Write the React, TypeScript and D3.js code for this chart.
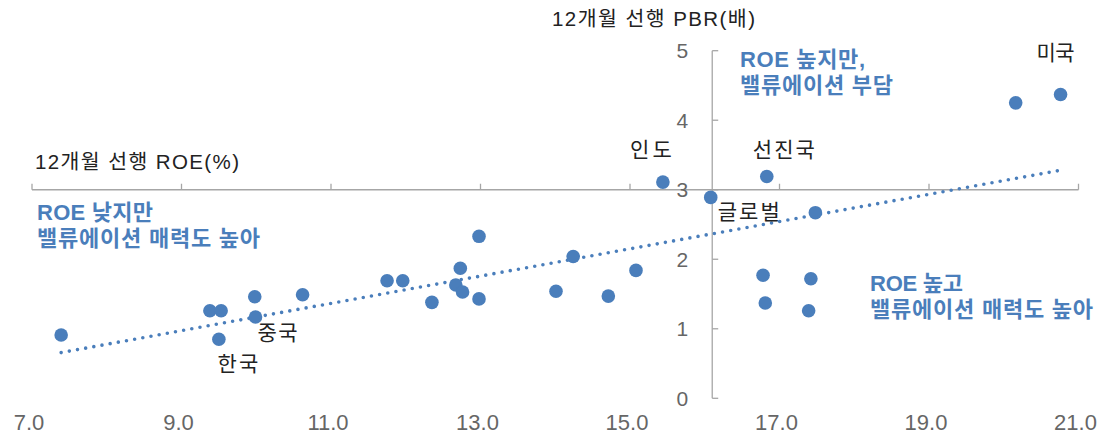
import React from 'react';
import * as d3 from 'd3';

// 12개월 선행 ROE(%) vs 12개월 선행 PBR(배)
const roe = [7.39, 9.38, 9.53, 9.98, 9.99, 9.5, 10.62, 11.75, 11.96, 12.35, 12.67, 12.73, 12.76, 12.98, 12.98,
  14.01, 14.24, 14.71, 15.08, 16.08, 16.78, 16.81, 17.42, 17.39, 17.48, 15.44, 16.83, 20.16, 20.76];
const pbr = [0.91, 1.26, 1.26, 1.46, 1.17, 0.85, 1.49, 1.69, 1.69, 1.38, 1.63, 1.87, 1.53, 2.33, 1.43,
  1.54, 2.04, 1.47, 1.84, 2.89, 1.77, 1.37, 1.72, 1.26, 2.67, 3.11, 3.19, 4.25, 4.37];
const names = ['', '', '', '', '중국', '한국', '', '', '', '', '', '', '', '', '',
  '', '', '', '', '글로벌', '', '', '', '', '', '인도', '선진국', '', '미국'];

const xTicks = [7, 9, 11, 13, 15, 17, 19, 21];
const yTicks = [0, 1, 2, 3, 4, 5];
const crossRoe = 16.1; // 세로축 위치 (글로벌 ROE 부근)
const crossPbr = 3;

const W = 1099;
const H = 436;
const blue = '#4a7ebb';
const font = "'Liberation Sans', 'Noto Sans CJK KR', sans-serif";

// label placement relative to its point: [dx, dy, anchor, width]
const labelPos: Record<string, [number, number, string, number]> = {
  '중국': [2, 23, 'start', 40],
  '한국': [19, 32, 'middle', 41],
  '글로벌': [7, 22, 'start', 62],
  '인도': [-12, -25, 'middle', 42],
  '선진국': [17, -20, 'middle', 62],
  '미국': [-5, -34, 'middle', 38],
};

// 사분면 설명 (x, baseline, width)
const notes: [string, number, number, number][] = [
  ['ROE 높지만,', 740, 67, 125],
  ['밸류에이션 부담', 740, 93, 153],
  ['ROE 낮지만', 37, 220, 116],
  ['밸류에이션 매력도 높아', 37, 246, 223],
  ['ROE 높고', 870, 291, 93],
  ['밸류에이션 매력도 높아', 870, 317, 223],
];

export default function App() {
  const x = d3.scaleLinear().domain([7, 21]).range([32, 1078.5]);
  const y = d3.scaleLinear().domain([0, 5]).range([398.3, 50.7]);

  const pts = roe.map((r, i) => ({ x: r, y: pbr[i], name: names[i] }));

  // linear trend (least squares)
  const mx = d3.mean(roe)!;
  const my = d3.mean(pbr)!;
  const sxy = d3.sum(pts, d => (d.x - mx) * (d.y - my));
  const sxx = d3.sum(pts, d => (d.x - mx) ** 2);
  const slope = sxy / sxx;
  const icpt = my - slope * mx;
  const [x0, x1] = d3.extent(roe) as [number, number];
  const trend = d3.line<number>().x(v => x(v)).y(v => y(icpt + slope * v))([x0, x1])!;

  const ax = x(crossRoe);
  const ay = y(crossPbr);

  return (
    <svg width={W} height={H} style={{ position: 'absolute', left: 0, top: 0, background: '#fff' }}
      fontFamily={font}>
      {/* horizontal axis at PBR 3 */}
      <line x1={x(7)} x2={x(21)} y1={ay} y2={ay} stroke="#a6a6a6" strokeWidth={1.3} />
      {xTicks.map(t => (
        <g key={t}>
          <line x1={x(t)} x2={x(t)} y1={ay} y2={ay - 6} stroke="#a6a6a6" strokeWidth={1.3} />
          <text x={x(t) - 3} y={430} textAnchor="middle" fontSize={22} fill="#666">{t.toFixed(1)}</text>
        </g>
      ))}
      {/* vertical axis */}
      <line x1={ax} x2={ax} y1={y(0)} y2={y(5)} stroke="#a6a6a6" strokeWidth={1.3} />
      {yTicks.map(t => (
        <g key={t}>
          <line x1={ax} x2={ax + 6} y1={y(t)} y2={y(t)} stroke="#a6a6a6" strokeWidth={1.3} />
          <text x={ax - 24} y={y(t)} dy="0.36em" textAnchor="end" fontSize={21} fill="#666">{t}</text>
        </g>
      ))}

      <text x={552} y={26} fontSize={20.5} fill="#222" textLength={203} lengthAdjust="spacing">12개월 선행 PBR(배)</text>
      <text x={35} y={169} fontSize={20.5} fill="#222" textLength={204} lengthAdjust="spacing">12개월 선행 ROE(%)</text>

      <path d={trend} fill="none" stroke={blue} strokeWidth={3.6} strokeLinecap="round"
        strokeDasharray="0 8.3" />

      {pts.map((d, i) => (
        <circle key={i} cx={x(d.x)} cy={y(d.y)} r={6.8} fill={blue} />
      ))}

      {pts.filter(d => d.name).map(d => {
        const [dx, dy, anchor, w] = labelPos[d.name];
        return (
          <text key={d.name} x={x(d.x) + dx} y={y(d.y) + dy} textAnchor={anchor as any}
            fontSize={21} fill="#222" textLength={w} lengthAdjust="spacing">{d.name}</text>
        );
      })}

      <g fill={blue} fontSize={22} fontWeight="bold">
        {notes.map(([t, nx, ny, w], i) => (
          <text key={i} x={nx} y={ny} textLength={w} lengthAdjust="spacing">{t}</text>
        ))}
      </g>
    </svg>
  );
}
